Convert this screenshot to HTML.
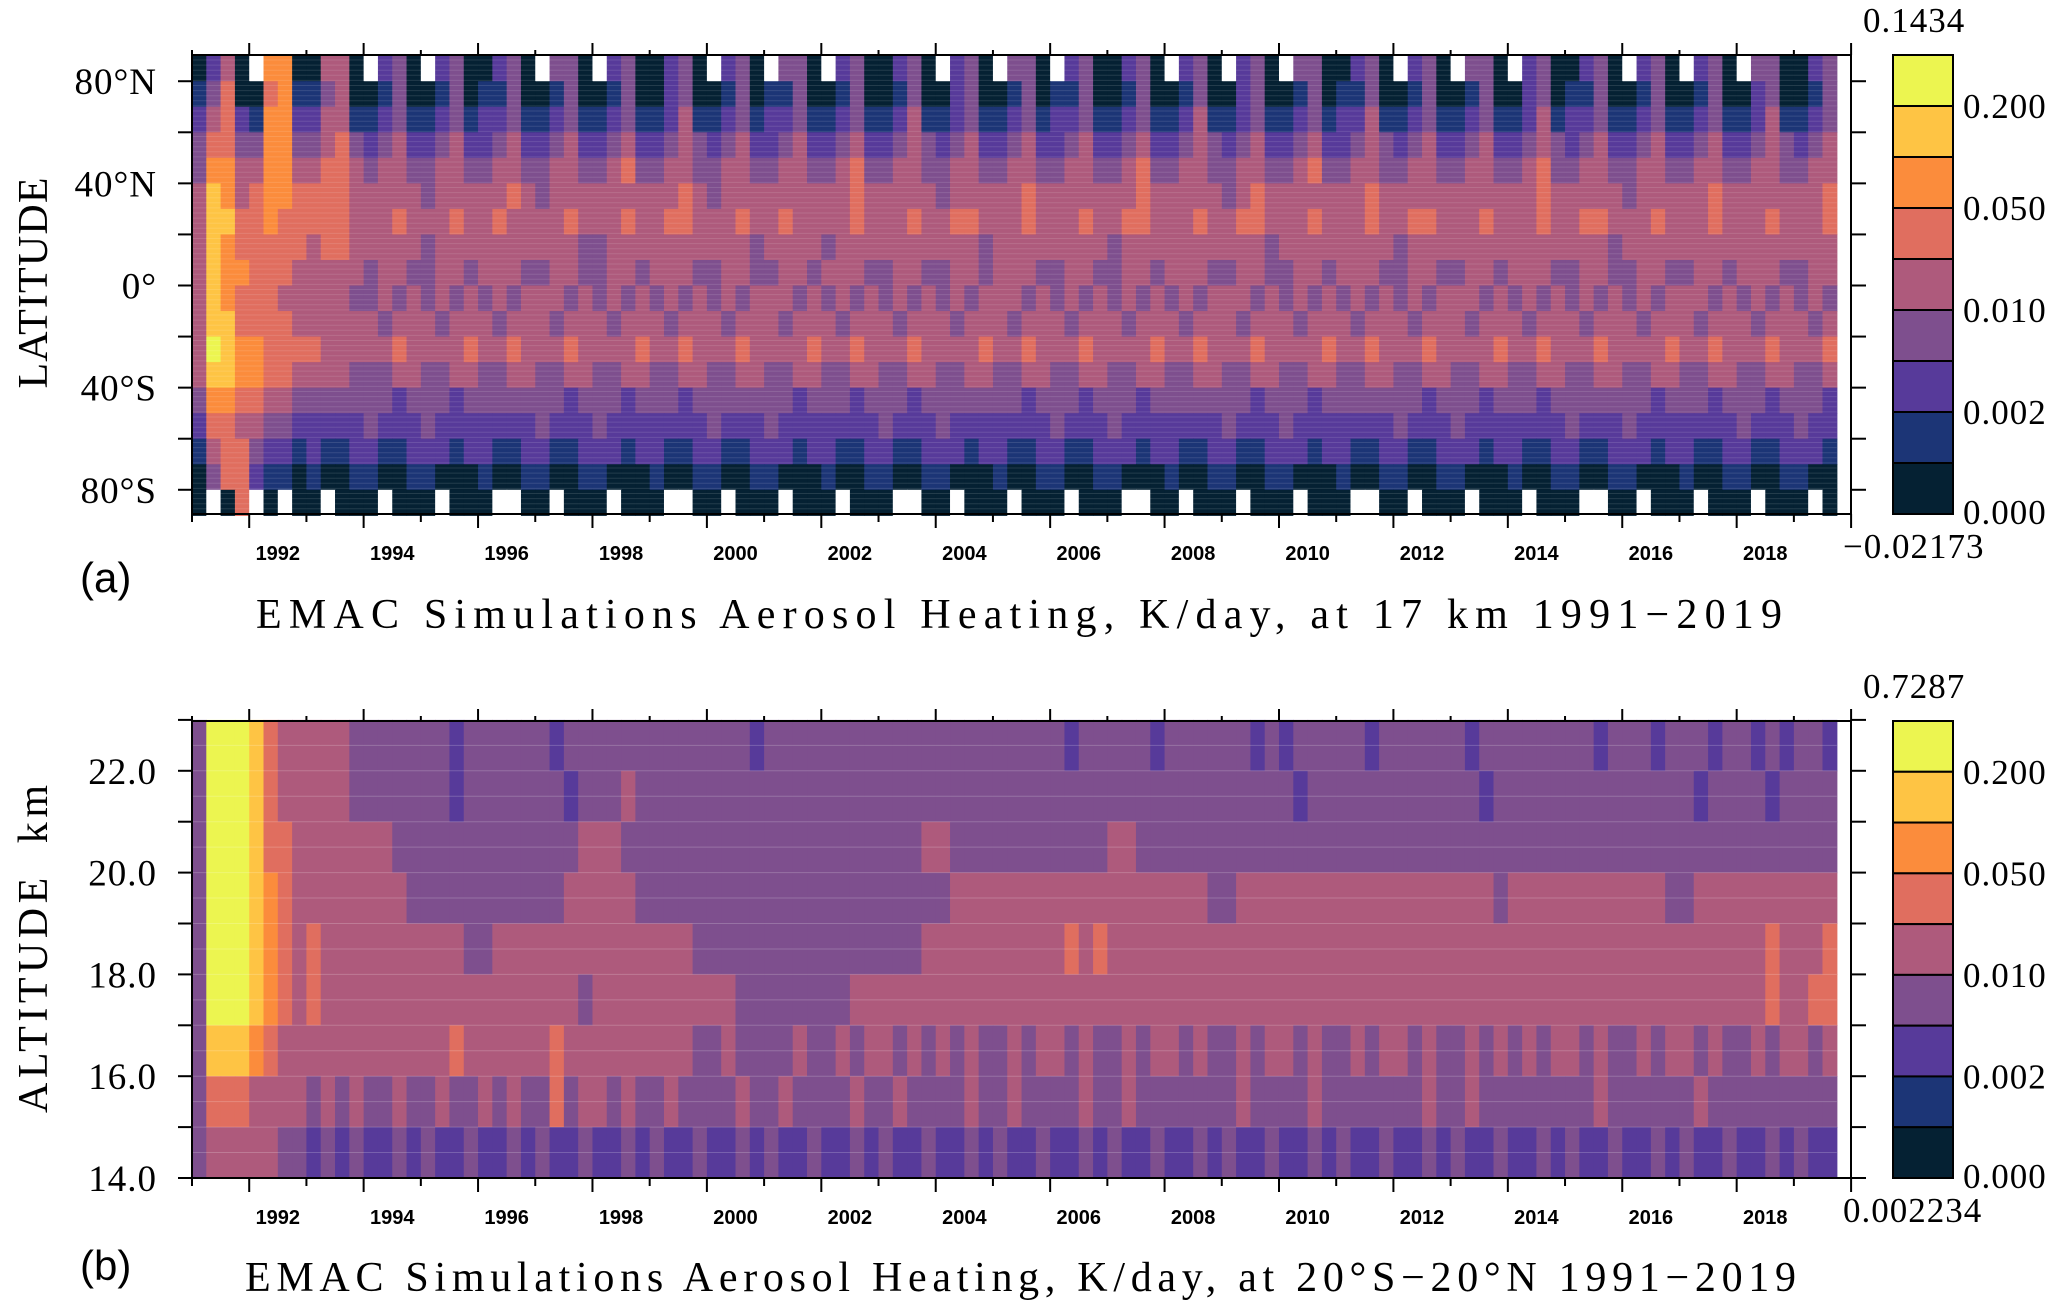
<!DOCTYPE html>
<html><head><meta charset="utf-8"><style>
html,body{margin:0;padding:0;background:#fff;}
svg{display:block;}
.tk{stroke:#000;stroke-width:2;}
.yl{font-family:"Liberation Serif",serif;font-size:37px;letter-spacing:1px;}
.xl{font-family:"Liberation Sans",sans-serif;font-size:20px;font-weight:bold;}
.cb{font-family:"Liberation Serif",serif;font-size:35px;letter-spacing:1px;}
.ttl{font-family:"Liberation Serif",serif;font-size:42px;}
</style></head><body>
<svg id="fig" width="2067" height="1314" viewBox="0 0 2067 1314" xmlns="http://www.w3.org/2000/svg">
<g id="pa"></g>
<g id="pb"></g>
<g id="axes"></g>
<text x="33" y="283" class="ttl" text-anchor="middle" transform="rotate(-90 33 283)" dy="14" textLength="211">LATITUDE</text>
<text x="33" y="949" class="ttl" text-anchor="middle" transform="rotate(-90 33 949)" dy="14" textLength="328" xml:space="preserve">ALTITUDE  km</text>
<text x="80" y="592" font-family="Liberation Sans, sans-serif" font-size="42">(a)</text>
<text x="80" y="1280" font-family="Liberation Sans, sans-serif" font-size="42">(b)</text>
<text x="256" y="628" class="ttl" textLength="1526">EMAC Simulations Aerosol Heating, K/day, at 17 km 1991−2019</text>
<text x="245" y="1291" class="ttl" textLength="1551">EMAC Simulations Aerosol Heating, K/day, at 20°S−20°N 1991−2019</text>
</svg>
<script>
const palette = ["#052133","#1c3576","#573a9a","#7e4f8e","#ae5a7c","#e06e5f","#fb8c3c","#fec444","#ecf550"];
const cbLabels = ["0.200","0.050","0.010","0.002","0.000"];
const cbTopA = "0.1434", cbBotA = "−0.02173", cbTopB = "0.7287", cbBotB = "0.002234";
const yearLabels = [1992,1994,1996,1998,2000,2002,2004,2006,2008,2010,2012,2014,2016,2018];
const latTicks = [80,60,40,20,0,-20,-40,-60,-80];
const latLabels = {"80":"80°N","40":"40°N","0":"0°","-40":"40°S","-80":"80°S"};
const altTicks = [23,22,21,20,19,18,17,16,15,14];
const altLabels = {"22":"22.0","20":"20.0","18":"18.0","16":"16.0","14":"14.0"};
const startYear = 1991;
const stepsPerYear = 4;
// panel (a) rows: latitude band centres, 90N -> 90S
const latCentres = [85,75,65,55,45,35,25,15,5,-5,-15,-25,-35,-45,-55,-65,-75,-85];
const rowsA = [
"0240 w660 0440 w230 w230 0230 w330 w230 0230 w230 w330 w230 0230 w230 w330 w230 0230 w230 w230 w330 0230 w230 w330 w230 0230 w230 w230 w330 023x",
"1350 0561 1340 0130 0130 1130 0130 0130 0230 0130 1130 0130 0130 0230 0130 1130 0130 0130 0230 0130 1130 0130 0130 0230 1130 0130 0130 0230 013x",
"2452 1662 2441 1231 1231 2231 1231 1231 1241 1231 2231 1231 1241 1231 1231 2231 1231 1241 1231 1231 2241 1231 1231 1241 2231 1231 1231 1241 123x",
"3553 3663 3453 2342 2342 2342 2342 2342 2343 2342 2342 2342 2343 2342 2342 2342 2342 2343 2342 2342 2343 2342 2342 2343 2342 2342 2342 2343 234x",
"3664 4664 4554 3443 3443 3443 3443 3453 3443 3443 3443 3453 3443 3443 3443 3443 3453 3443 3443 3453 3443 3443 3443 3453 3443 3443 3443 3443 344x",
"4764 5665 5554 4444 3444 4454 3444 4444 4454 3444 4444 4454 4444 3444 4454 4444 4454 4444 3454 4444 4454 4444 4444 4454 4444 3444 4454 4444 445x",
"4775 5655 5554 4454 4454 4544 4454 4454 4554 4454 4544 4454 4454 4554 4454 4454 4554 4454 4554 4454 4454 4554 4454 4454 4554 4454 4454 4454 445x",
"4765 5555 4554 4444 3444 4444 4443 3444 4444 4443 4444 3444 4444 4443 4444 4444 3444 4444 4443 4444 4444 3444 4444 4444 4443 4444 4444 4444 444x",
"4766 5554 4444 3443 3443 4443 3443 3443 4443 3443 3443 4443 3443 3443 4443 3443 3443 4443 3443 3443 4443 3443 3443 4443 3443 3443 3443 4443 344x",
"4765 5544 4443 3434 3434 3434 4434 3434 3434 3434 4434 3434 3434 3434 4434 3434 3434 3434 4434 3434 3434 3434 4434 3434 3434 3434 4434 3434 343x",
"4775 5554 4444 4344 4344 4344 4344 4344 4344 4344 4344 4344 4344 4344 4344 4344 4344 4344 4344 4344 4344 4344 4344 4344 4344 4344 4344 4344 434x",
"4876 6555 5444 4454 4445 4454 4454 4445 4454 4454 4445 4454 4454 4445 4454 4454 4445 4454 4454 4445 4454 4454 4445 4454 4454 4445 4454 4454 445x",
"4776 6554 4443 3344 3344 3344 3344 3344 3344 3344 3344 3344 3344 3344 3344 3344 3344 3344 3344 3344 3344 3344 3344 3344 3344 3344 3344 3344 334x",
"3665 5443 3333 3323 3323 3333 3323 3323 3323 3333 3323 3323 3323 3333 3323 3323 3323 3333 3323 3323 3333 3323 3323 3323 3333 3323 3323 3323 332x",
"2554 4332 2222 3222 3222 2222 3222 3222 2222 3222 3222 2222 3222 3222 2222 3222 3222 2222 3222 3222 2222 3222 3222 2222 3222 3222 2222 3222 322x",
"1455 3221 2112 2112 2212 2112 2112 2212 2112 2112 2212 2112 2112 2212 2112 2112 2212 2112 2112 2212 2112 2112 2212 2112 2112 2212 2112 2112 221x",
"0355 2110 1001 1001 1000 1001 1001 1000 1001 1001 1000 1001 1001 1000 1001 1001 1000 1001 1001 1000 1001 1001 1000 1001 1001 1000 1001 1001 100x",
"0w05 w0w0 0w00 0w00 0w00 0ww0 0w00 0w00 0ww0 0w00 0w00 0w00 0ww0 0w00 0w00 0w00 0ww0 0w00 0w00 0w00 0ww0 0w00 0w00 0w00 0ww0 0w00 0w00 0w00 0w0x"
];
// panel (b) rows: altitude band centres (km), top -> bottom
const altCentres = [22.5,21.5,20.5,19.5,18.5,17.5,16.5,15.5,14.5];
const rowsB = [
"3888 7544 4443 3333 3323 3333 3233 3333 3333 3332 3333 3333 3333 3333 3333 3233 3332 3333 3323 2333 3323 3333 3233 3333 3323 3323 3323 3232 332x",
"3888 7544 4443 3333 3323 3333 3323 3343 3333 3333 3333 3333 3333 3333 3333 3333 3333 3333 3333 3233 3333 3333 3323 3333 3333 3333 3233 3323 333x",
"3888 7554 4444 4433 3333 3333 3334 4433 3333 3333 3333 3333 3334 4333 3333 3333 4433 3333 3333 3333 3333 3333 3333 3333 3333 3333 3333 3333 333x",
"3888 7654 4444 4443 3333 3333 3344 4443 3333 3333 3333 3333 3333 3444 4444 4444 4444 4443 3444 4444 4444 4444 4443 4444 4444 4443 3444 4444 444x",
"3888 7654 5444 4444 4443 3444 4444 4444 4443 3333 3333 3333 3334 4444 4444 4545 4444 4444 4444 4444 4444 4444 4444 4444 4444 4444 4444 4454 445x",
"3888 7654 5444 4444 4444 4444 4443 4444 4444 4433 3333 3344 4444 4444 4444 4444 4444 4444 4444 4444 4444 4444 4444 4444 4444 4444 4444 4454 455x",
"3777 6544 4444 4444 4454 4444 4544 4444 4443 3433 3343 3434 4343 4343 3434 4343 3434 4343 3434 4343 3434 4343 3434 3434 4343 3434 4343 3434 434x",
"3555 4444 3434 3343 3433 4343 3534 4343 3433 3343 3433 3343 3433 3343 3433 3343 3433 3333 3433 3343 3333 3343 3433 3333 3343 3333 3433 3333 333x",
"3444 4433 2323 2232 3223 2232 3223 2232 3223 2232 3223 2232 3223 2232 3223 2232 3223 2232 3223 2232 3223 2232 3223 2232 3223 2232 3223 2232 322x"
];

const NS = "http://www.w3.org/2000/svg";
const X0 = 192, X1 = 1851, YPX = 57.21;
const xOf = y => X0 + (y - startYear) * YPX;
const A = {top:55, bottom:514};
const B = {top:721, bottom:1178};
const latY = l => 285.5 - l * 2.5535;
const altY = h => 1178 - (h - 14) * 50.9;
function mk(tag, attrs, parent){ const e=document.createElementNS(NS,tag); for(const k in attrs) e.setAttribute(k,attrs[k]); parent.appendChild(e); return e; }

function drawHeat(g, rows, centres, yOf, halfBand, nameBase){
  rows.forEach((rs, ri) => {
    const s = rs.replace(/ /g,"");
    const yTop = yOf(centres[ri] + halfBand), yBot = yOf(centres[ri] - halfBand);
    for (let i=0;i<s.length;i++){
      const c = s[i]; if (c==="x") continue;
      const x0 = xOf(startYear + i/stepsPerYear), x1 = xOf(startYear + (i+1)/stepsPerYear);
      const r = mk("rect",{x:x0.toFixed(2),y:Math.min(yTop,yBot).toFixed(2),width:(x1-x0+0.6).toFixed(2),height:(Math.abs(yBot-yTop)+0.6).toFixed(2),fill:c==="w"?"#ffffff":palette[+c]},g);
      
      
    }
  });
}
const pa = document.getElementById("pa"), pb = document.getElementById("pb"), ax = document.getElementById("axes");
drawHeat(pa, rowsA, latCentres, latY, 5, "lat-time");
drawHeat(pb, rowsB, altCentres, altY, 0.5, "alt-time");
for (let y=A.top+5; y<A.bottom; y+=5.1){ const l=mk("line",{x1:X0,x2:xOf(2019.75),y1:y,y2:y,stroke:"#fff","stroke-opacity":0.12,"stroke-width":1},pa);   }
for (let h=14.5; h<23; h+=0.5){ const y=altY(h); const l=mk("line",{x1:X0,x2:xOf(2019.75),y1:y,y2:y,stroke:"#fff","stroke-opacity":0.2,"stroke-width":1},pb);   }

function frame(P, name){
  const r = mk("rect",{x:X0,y:P.top,width:X1-X0,height:P.bottom-P.top,fill:"none",stroke:"#000","stroke-width":2},ax);
   
  for (let yr=1991; yr<=2020; yr++){
    const x = xOf(yr), major = yr%2===0;
    const t1 = mk("line",{x1:x,x2:x,y1:P.top,y2:P.top-(major?12:5),class:"tk"},ax);
     
    const t2 = mk("line",{x1:x,x2:x,y1:P.bottom,y2:P.bottom+(major?14:8),class:"tk"},ax);
     
  }
  yearLabels.forEach(yr => {
    const t = mk("text",{x:xOf(yr+0.5),y:P.bottom+46,class:"xl","text-anchor":"middle"},ax);
    t.textContent = yr;
     
  });
}
frame(A,"panel-a"); frame(B,"panel-b");
latTicks.forEach(l => {
  const y = latY(l);
  const a = mk("line",{x1:X0,x2:X0-14,y1:y,y2:y,class:"tk"},ax);  
  const b = mk("line",{x1:X1,x2:X1+15,y1:y,y2:y,class:"tk"},ax);  
  if (latLabels[l]!==undefined){ const t=mk("text",{x:157,y:y+13,class:"yl","text-anchor":"end"},ax); t.textContent=latLabels[l];   }
});
altTicks.forEach(h => {
  const y = altY(h);
  const a = mk("line",{x1:X0,x2:X0-14,y1:y,y2:y,class:"tk"},ax);  
  const b = mk("line",{x1:X1,x2:X1+15,y1:y,y2:y,class:"tk"},ax);  
  if (altLabels[h]!==undefined){ const t=mk("text",{x:157,y:y+13,class:"yl","text-anchor":"end"},ax); t.textContent=altLabels[h];   }
});
function colorbar(P, topLbl, botLbl, name){
  const h = (P.bottom - P.top)/9;
  for (let i=0;i<9;i++){
    const r = mk("rect",{x:1893,y:P.top+i*h,width:60,height:h,fill:palette[8-i],stroke:"#000","stroke-width":2},ax);
     
  }
  cbLabels.forEach((lb,k) => {
    const t = mk("text",{x:1963,y:P.top+(2*k+1)*h+12+(k===4?-2:0),class:"cb"},ax);
    t.textContent = lb;  
  });
  const t1 = mk("text",{x:1863,y:P.top-23,class:"cb"},ax); t1.textContent=topLbl;  
  const t2 = mk("text",{x:1843,y:P.bottom+44,class:"cb"},ax); t2.textContent=botLbl;  
}
colorbar(A, cbTopA, cbBotA, "colorbar-a");
colorbar(B, cbTopB, cbBotB, "colorbar-b");
</script>
</body></html>
